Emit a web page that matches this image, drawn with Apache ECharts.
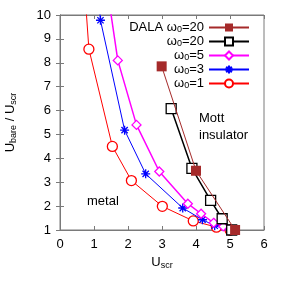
<!DOCTYPE html>
<html><head><meta charset="utf-8">
<script src="https://cdn.jsdelivr.net/npm/echarts@6/dist/echarts.min.js"></script>
<style>html,body{margin:0;padding:0;background:#fff}#c{width:288px;height:293px}</style>
</head><body><div id="c"></div>
<script>
const seriesNames = ['DALA ω0=20', 'ω0=20', 'ω0=5', 'ω0=3', 'ω0=1'];
const dala20 = [[2.99, 7.85], [4.0, 3.48], [5.15, 1.0]];
const w20 = [[3.27, 6.08], [3.88, 3.58], [4.43, 2.24], [4.77, 1.47], [5.05, 1.0]];
const w5 = [[1.4, 11], [1.70, 8.1], [2.25, 5.4], [2.92, 3.45], [3.76, 2.1], [4.15, 1.68], [4.52, 1.3], [4.8, 1.15], [5.05, 1.0]];
const w3 = [[1.12, 11], [1.19, 9.78], [1.90, 5.18], [2.52, 3.35], [3.61, 1.92], [4.19, 1.43], [4.55, 1.18], [5.0, 1.0]];
const w1 = [[0.68, 12], [0.85, 8.57], [1.54, 4.5], [2.10, 3.07], [3.01, 1.99], [3.92, 1.38], [4.6, 1.12], [5.0, 1.0]];
const xTicks = [0, 1, 2, 3, 4, 5, 6];
const yTicks = [1, 2, 3, 4, 5, 6, 7, 8, 9, 10];

const FONT = 'Liberation Sans';
const chart = echarts.init(document.getElementById('c'));
const gray = '#7a7a7a';
const star = 'path://M5,0L5,10M0,5L10,5M1.5,1.5L8.5,8.5M1.5,8.5L8.5,1.5';
const sub = {fontSize: 9, fontFamily: FONT, color: '#000', padding: [7, 0, 0, 0]};
const subL = {fontSize: 9, fontFamily: FONT, color: '#000', padding: [5, 0, 0, 0]};
const base = {fontSize: 13, fontFamily: FONT, color: '#000'};
function mk(name, data, color, symbol, size, lw, filled, z) {
  return {
    name, type: 'line', data, z,
    symbol, symbolSize: size, showSymbol: true,
    lineStyle: {color, width: lw},
    itemStyle: {color: filled ? color : '#fff', borderColor: color, borderWidth: filled ? 0 : 1.3},
    emphasis: {disabled: true}, animation: false, clip: true
  };
}
chart.setOption({
  animation: false,
  grid: {left: 60, right: 24, top: 15, bottom: 63, show: true, borderColor: gray, borderWidth: 1,
         containLabel: false, outerBoundsMode: 'none'},
  xAxis: [{
    type: 'value', min: 0, max: 6, interval: 1,
    name: '{a|U}{s|scr}', nameLocation: 'middle', nameGap: 23,
    nameTextStyle: {rich: {a: base, s: sub}},
    axisLine: {lineStyle: {color: gray}}, axisTick: {inside: true, length: 4, lineStyle: {color: gray}},
    axisLabel: {fontSize: 13, fontFamily: FONT, color: '#000', margin: 8},
    splitLine: {show: false}
  }, {
    type: 'value', min: 0, max: 6, interval: 1, position: 'top',
    axisLine: {lineStyle: {color: gray}}, axisTick: {inside: true, length: 4, lineStyle: {color: gray}},
    axisLabel: {show: false}, splitLine: {show: false}
  }],
  yAxis: [{
    type: 'value', min: 1, max: 10, interval: 1,
    name: '{a|U}{s|bare}{a| / U}{s|scr}', nameLocation: 'middle', nameGap: 42, nameRotate: 90,
    nameTextStyle: {rich: {a: base, s: sub}},
    axisLine: {show: true, lineStyle: {color: gray}}, axisTick: {show: true, inside: true, length: 4, lineStyle: {color: gray}},
    axisLabel: {fontSize: 13, fontFamily: FONT, color: '#000', margin: 9},
    splitLine: {show: false}
  }, {
    type: 'value', min: 1, max: 10, interval: 1, position: 'right',
    axisLine: {show: true, lineStyle: {color: gray}}, axisTick: {show: true, inside: true, length: 4, lineStyle: {color: gray}},
    axisLabel: {show: false}, splitLine: {show: false}
  }],
  legend: {
    orient: 'vertical', right: 33, top: 16, align: 'right',
    itemWidth: 40, itemHeight: 10, itemGap: 0.5,
    data: seriesNames,
    formatter: function (n) {
      const i = n.indexOf('0=');
      return '{a|' + n.slice(0, i) + '}{s|0}{a|' + n.slice(i + 1) + '}';
    },
    textStyle: {rich: {a: base, s: subL}}
  },
  graphic: [
    {type: 'text', left: 199, top: 110, style: {text: 'Mott\ninsulator', font: '13px "Liberation Sans"', fill: '#000', lineHeight: 17}},
    {type: 'text', left: 87, top: 195, style: {text: 'metal', font: '13px "Liberation Sans"', fill: '#000'}}
  ],
  series: [
    mk(seriesNames[4], w1, '#ff0000', 'circle', 10, 1, false, 2),
    mk(seriesNames[3], w3, '#0000ff', star, 9, 1, false, 3),
    mk(seriesNames[2], w5, '#ff00ff', 'diamond', 9, 1.5, false, 4),
    mk(seriesNames[1], w20, '#000000', 'rect', 10, 1.5, false, 5),
    mk(seriesNames[0], dala20, '#a52a2a', 'rect', 10, 1, true, 6)
  ]
});
</script></body></html>
